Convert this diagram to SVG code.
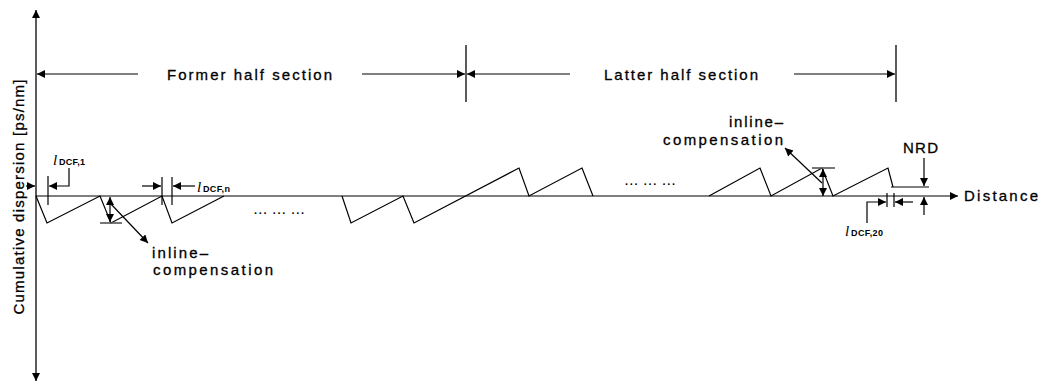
<svg xmlns="http://www.w3.org/2000/svg" width="1045" height="383" viewBox="0 0 1045 383">
<style>
.ln{stroke:#000;stroke-width:1.2;fill:none}
.ax{stroke:#333;stroke-width:1.6;fill:none}
.gr{stroke:#555;stroke-width:1.6;fill:none}
.ar{marker-end:url(#ah)}
.dar{marker-start:url(#ah);marker-end:url(#ah)}
.t{font-family:"Liberation Sans",Arial,sans-serif;font-size:15px;fill:#000;stroke:#000;stroke-width:0.3}
.dots{font-family:"Liberation Sans",Arial,sans-serif;font-size:11px;font-weight:bold;fill:#000}
.l{font-family:"Liberation Serif","Times New Roman",serif;font-style:italic;font-size:15px;fill:#000}
.sub{font-family:"Liberation Sans",Arial,sans-serif;font-size:9px;font-weight:bold;fill:#000}
</style>
<defs>
<marker id="ah" viewBox="0 0 10 10" refX="10" refY="5" markerUnits="userSpaceOnUse" markerWidth="10" markerHeight="8" orient="auto-start-reverse">
<path d="M0,0 L10,5 L0,10 z" fill="#000"/>
</marker>
</defs>
<rect width="1045" height="383" fill="#fff"/>

<g id="axes">
<line class="ax dar" x1="36" y1="381" x2="36" y2="10"/>
<line class="ln ar" x1="36" y1="196" x2="958" y2="196"/>
<text class="t" transform="translate(24,197) rotate(-90)" text-anchor="middle" textLength="235" lengthAdjust="spacing">Cumulative dispersion [ps/nm]</text>
<text class="t" x="964" y="201" font-size="16" textLength="74" lengthAdjust="spacing">Distance</text>
</g>

<g id="sections">
<line class="ax" x1="466" y1="45" x2="466" y2="102"/>
<line class="ax" x1="896" y1="45" x2="896" y2="102"/>
<text class="t" x="167" y="80" textLength="165" lengthAdjust="spacing">Former half section</text>
<text class="t" x="604" y="80" textLength="154" lengthAdjust="spacing">Latter half section</text>
</g>

<g id="dispersion-map">
<polyline class="ln" points="36,196 47,223 100,196 111,223 162,196 172,223 224,196"/>
<polyline class="ln" points="342,196 351,223 403,196 414,223 519,168 529,196 582,168 593,196"/>
<polyline class="ln" points="709,196 760,168 771,196 822,168 833,196 888,168 893,187"/>
<text class="dots" x="254" y="214" textLength="50" lengthAdjust="spacing">... ... ...</text>
<text class="dots" x="625" y="185" textLength="50" lengthAdjust="spacing">... ... ...</text>
</g>

<g id="ldcf1">
<line class="ln" x1="48" y1="176" x2="48" y2="205"/>
<text class="l" x="53" y="165">l</text>
<text class="sub" x="59" y="165" textLength="26" lengthAdjust="spacing">DCF,1</text>
</g>

<g id="ldcfn">
<line class="ln" x1="162" y1="177" x2="162" y2="205"/>
<line class="ln" x1="172" y1="177" x2="172" y2="205"/>
<text class="l" x="197" y="192">l</text>
<text class="sub" x="203" y="192" textLength="27" lengthAdjust="spacing">DCF,n</text>
</g>

<g id="inline-left">
<line class="gr" x1="100" y1="223" x2="122" y2="223"/>
<text class="t" x="152" y="258" textLength="56" lengthAdjust="spacing">inline–</text>
<text class="t" x="153" y="275" textLength="120" lengthAdjust="spacing">compensation</text>
</g>

<g id="inline-right">
<line class="gr" x1="812" y1="168" x2="835" y2="168"/>
<text class="t" x="783" y="127" text-anchor="end" textLength="54" lengthAdjust="spacing">inline–</text>
<text class="t" x="783" y="145" text-anchor="end" textLength="120" lengthAdjust="spacing">compensation</text>
</g>

<g id="nrd">
<line class="ln" x1="891" y1="187" x2="929" y2="187"/>
<text class="t" x="903" y="153" textLength="35" lengthAdjust="spacing">NRD</text>
</g>

<g id="ldcf20">
<line class="ln" x1="887" y1="193" x2="887" y2="207"/>
<line class="ln" x1="894" y1="193" x2="894" y2="207"/>
<text class="l" x="845" y="236">l</text>
<text class="sub" x="851" y="236" textLength="32" lengthAdjust="spacing">DCF,20</text>
</g>

<g id="connectors">
<line class="ln ar" x1="26" y1="186" x2="35" y2="186"/>
<line class="ln ar" x1="138" y1="74" x2="37" y2="74"/>
<line class="ln ar" x1="362" y1="74" x2="465" y2="74"/>
<line class="ln ar" x1="570" y1="74" x2="467" y2="74"/>
<line class="ln ar" x1="794" y1="74" x2="895" y2="74"/>
<polyline class="ln ar" points="69,168 69,186 49,186"/>
<line class="ln ar" x1="142" y1="186" x2="161" y2="186"/>
<line class="ln ar" x1="195" y1="186" x2="173" y2="186"/>
<line class="ln dar" x1="110" y1="197" x2="110" y2="222"/>
<line class="ln ar" x1="110" y1="203" x2="148" y2="243"/>
<line class="ln dar" x1="823" y1="169" x2="823" y2="196"/>
<line class="ln ar" x1="822" y1="183" x2="785" y2="148"/>
<line class="ln ar" x1="924" y1="158" x2="924" y2="186"/>
<line class="ln ar" x1="924" y1="215" x2="924" y2="197"/>
<polyline class="ln ar" points="867,223 867,202 886,202"/>
<line class="ln ar" x1="913" y1="202" x2="895" y2="202"/>
</g>
</svg>
